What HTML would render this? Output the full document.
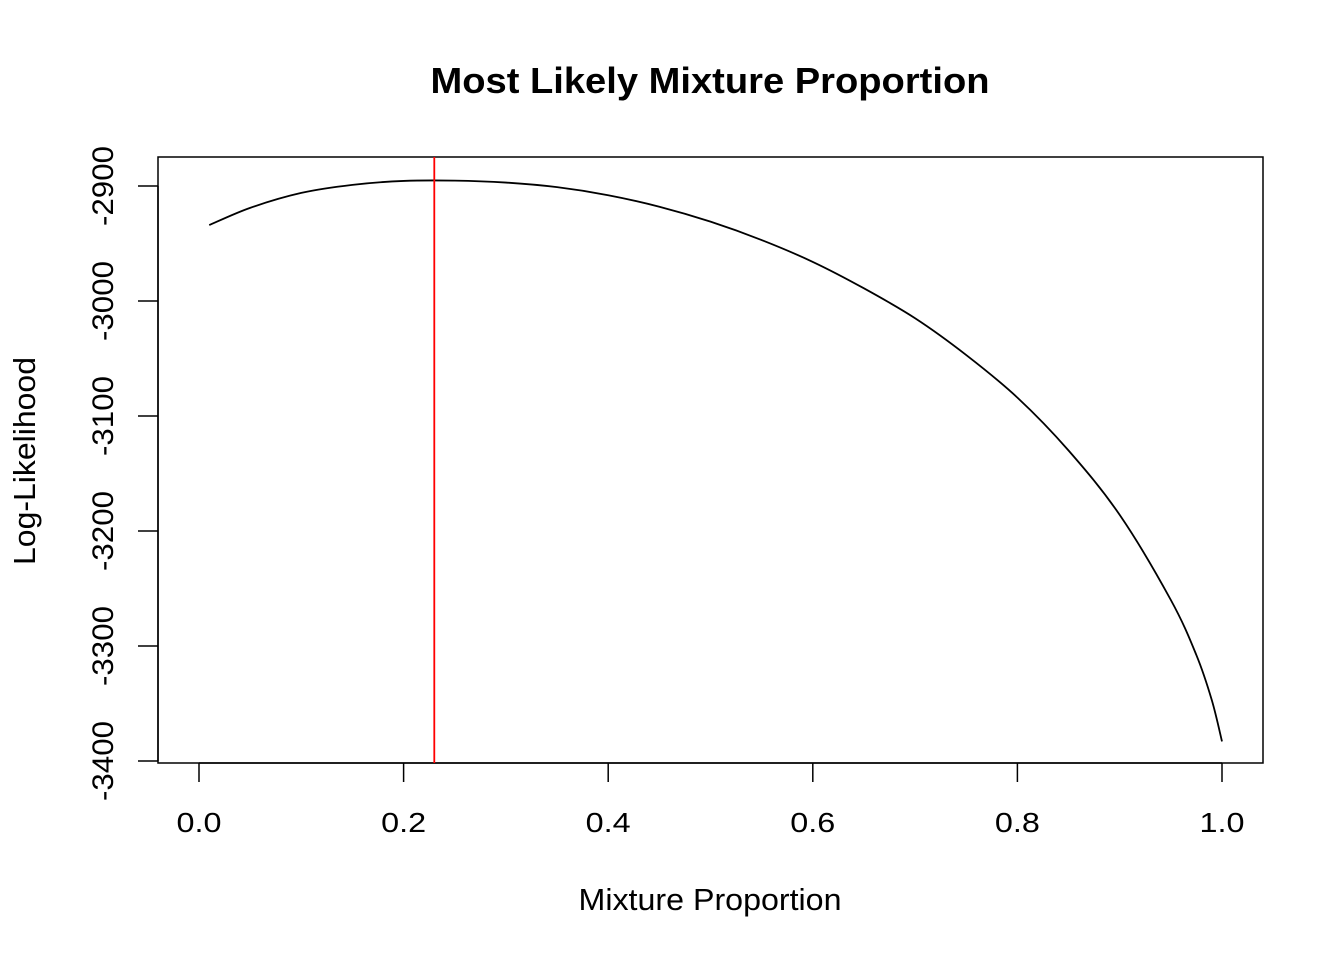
<!DOCTYPE html>
<html><head><meta charset="utf-8"><style>
body{margin:0;background:#fff}
svg{display:block;font-family:"Liberation Sans",Arial,sans-serif}
</style></head><body>
<svg id="chart" width="1344" height="960" viewBox="0 0 1344 960">
<rect width="1344" height="960" fill="#fff"/>
<text x="710" y="93" text-anchor="middle" font-size="36" font-weight="bold" textLength="559" lengthAdjust="spacingAndGlyphs">Most Likely Mixture Proportion</text>
<rect x="158" y="157" width="1105" height="606" fill="none" stroke="#000" stroke-width="1.5"/>
<g id="xaxis"></g>
<g id="yaxis"></g>
<text x="710" y="910" text-anchor="middle" font-size="31" textLength="263" lengthAdjust="spacingAndGlyphs">Mixture Proportion</text>
<text transform="translate(35,461) rotate(-90)" text-anchor="middle" font-size="31" textLength="208" lengthAdjust="spacingAndGlyphs">Log-Likelihood</text>
<g id="marks"></g>
</svg>
<script>
const xTicks=[0,0.2,0.4,0.6,0.8,1.0];
const xTickLabels=["0.0","0.2","0.4","0.6","0.8","1.0"];
const yTicks=[-2900,-3000,-3100,-3200,-3300,-3400];
const yTickLabels=["-2900","-3000","-3100","-3200","-3300","-3400"];
const proportions=[0.01,0.05,0.1,0.15,0.2,0.25,0.3,0.35,0.4,0.45,0.5,0.55,0.6,0.65,0.7,0.75,0.8,0.85,0.9,0.95,0.975,0.99,1.0];
const logLik=[-2934,-2919,-2906,-2899,-2895.6,-2895.3,-2897,-2901,-2908,-2918,-2931,-2947,-2966,-2989,-3015,-3047,-3084,-3130,-3186,-3260,-3308,-3347,-3383];
const bestProportion=[0.23];
const NS="http://www.w3.org/2000/svg";
const sx=v=>199+v*1023;
const sy=v=>186+(-2900-v)*1.15;
function mk(t,a,p){const e=document.createElementNS(NS,t);for(const k in a)e.setAttribute(k,a[k]);p.appendChild(e);return e;}
const xa=document.getElementById('xaxis'),ya=document.getElementById('yaxis'),m=document.getElementById('marks');
mk('line',{x1:sx(0),x2:sx(1),y1:763,y2:763,stroke:'#000','stroke-width':1.5},xa);
xTicks.forEach((v,i)=>{
 const l=mk('line',{x1:sx(v),x2:sx(v),y1:763,y2:782,stroke:'#000','stroke-width':1.5},xa);
 
 
 const t=mk('text',{x:sx(v),y:832,'text-anchor':'middle','font-size':28,textLength:45,lengthAdjust:'spacingAndGlyphs'},xa);t.textContent=xTickLabels[i];
 
 
});
mk('line',{x1:158,x2:158,y1:sy(-2900),y2:sy(-3400),stroke:'#000','stroke-width':1.5},ya);
yTicks.forEach((v,i)=>{
 const l=mk('line',{x1:138,x2:158,y1:sy(v),y2:sy(v),stroke:'#000','stroke-width':1.5},ya);
 
 
 const t=mk('text',{transform:`translate(113,${sy(v)}) rotate(-90)`,'text-anchor':'middle','font-size':30,textLength:80,lengthAdjust:'spacingAndGlyphs'},ya);t.textContent=yTickLabels[i];
 
 
});
const P=proportions.map((p,i)=>[sx(p),sy(logLik[i])]);
let d='M'+P[0][0]+','+P[0][1];
for(let i=0;i<P.length-1;i++){
 const p0=P[Math.max(0,i-1)],p1=P[i],p2=P[i+1],p3=P[Math.min(P.length-1,i+2)];
 const c1=[p1[0]+(p2[0]-p0[0])/6,p1[1]+(p2[1]-p0[1])/6];
 const c2=[p2[0]-(p3[0]-p1[0])/6,p2[1]-(p3[1]-p1[1])/6];
 d+=` C${c1[0]},${c1[1]} ${c2[0]},${c2[1]} ${p2[0]},${p2[1]}`;
}
const pl=mk('path',{d:d,fill:'none',stroke:'#000','stroke-width':1.8},m);


bestProportion.forEach(b=>{
 const l=mk('line',{x1:sx(b),x2:sx(b),y1:157,y2:763,stroke:'#f00','stroke-width':1.8},m);
 
 
});
</script>
</body></html>
